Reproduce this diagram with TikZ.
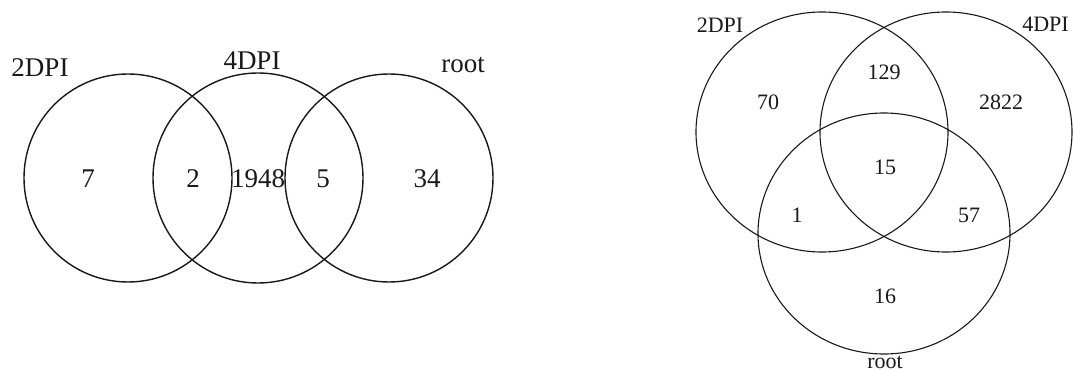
\documentclass[tikz,border=0pt]{standalone}
\usepackage{fontspec}
\setmainfont{Liberation Serif}
\begin{document}
\begin{tikzpicture}[x=1pt,y=-1pt,
  ringL/.style={draw=black!90,line width=1.4pt},
  ringR/.style={draw=black!90,line width=1.1pt},
  txtL/.style={inner sep=0pt,anchor=base,font=\fontsize{27}{32}\selectfont,text=black!90},
  txtR/.style={inner sep=0pt,anchor=base,font=\fontsize{22}{26}\selectfont,text=black!90}]
\useasboundingbox[fill=white] (0,0) rectangle (1073,371);
% left diagram
\draw[ringL] (128,178) circle[radius=104];
\draw[ringL] (258,178) circle[radius=105];
\draw[ringL] (389,178) circle[radius=104];
\node[txtL] (l2dpi) at (40,77) {2DPI};
\node[txtL] (l4dpi) at (252,70) {4DPI};
\node[txtL] (lroot) at (463,73) {root};
\node[txtL] (n7) at (88,188) {7};
\node[txtL] (n2) at (193,188) {2};
\node[txtL] (n1948) at (258,188) {1948};
\node[txtL] (n5) at (323,188) {5};
\node[txtL] (n34) at (427,188) {34};
% right diagram
\draw[ringR] (822,132) ellipse[x radius=126,y radius=120];
\draw[ringR] (946,132) ellipse[x radius=126,y radius=120];
\draw[ringR] (884,233.5) ellipse[x radius=126,y radius=120.5];
\node[txtR] (r2dpi) at (720,33) {2DPI};
\node[txtR] (r4dpi) at (1045.5,32) {4DPI};
\node[txtR] (rroot) at (885,368) {root};
\node[txtR] (n70) at (768,110) {70};
\node[txtR] (n129) at (884,80) {129};
\node[txtR] (n2822) at (1001,110) {2822};
\node[txtR] (n15) at (885,175) {15};
\node[txtR] (n1) at (797,223) {1};
\node[txtR] (n57) at (969,223) {57};
\node[txtR] (n16) at (885,303) {16};
\end{tikzpicture}
\end{document}
